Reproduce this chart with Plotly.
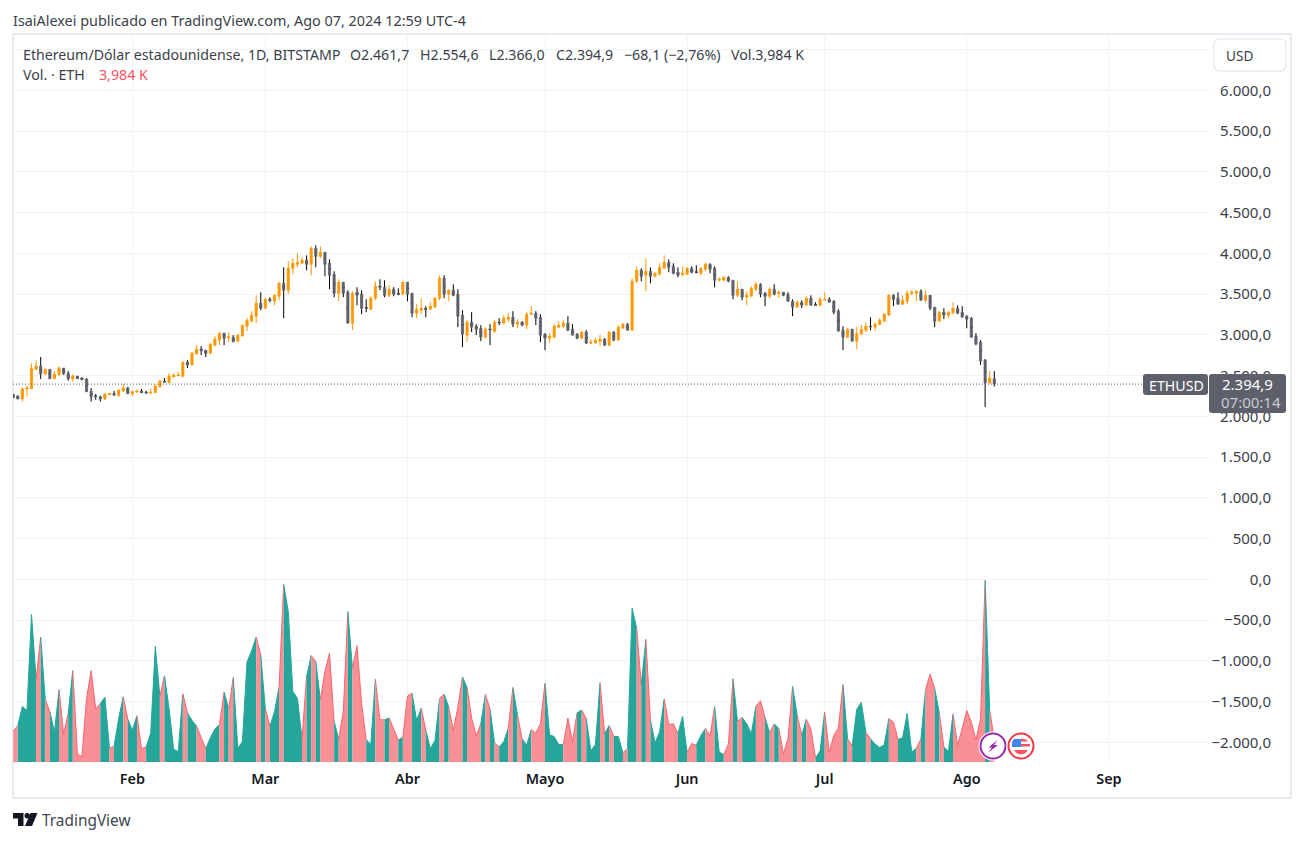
"""ETH/USD daily candles with a volume area, TradingView snapshot layout."""

import numpy as np
import pandas as pd
import plotly.graph_objects as go

# the page keeps its default 8px body margin, so the figure sits at (8, 8)
PAGE_W, PAGE_H = 1304, 842
EDGE = 8
W, H = PAGE_W - 2 * EDGE, PAGE_H - 2 * EDGE
FONT = "Noto Sans"
TEXT = "#3b3f4a"
UP = "#ff9800"
DOWN = "#5d606b"
GRID = "#f1f3f6"
BORDER = "#e9ebf2"

opens = [
    2270, 2249, 2212, 2339, 2339, 2576, 2616, 2518, 2576, 2461, 2510, 2592,
    2527, 2457, 2494, 2469, 2457, 2306, 2249, 2237, 2212, 2265, 2274, 2253,
    2310, 2347, 2274, 2298, 2310, 2298, 2286, 2290, 2363, 2429, 2412, 2482,
    2498, 2490, 2665, 2629, 2763, 2824, 2812, 2775, 2873, 2935, 3020, 2963,
    2971, 2922, 2984, 3106, 3167, 3228, 3387, 3326, 3436, 3412, 3473, 3632,
    3547, 3816, 3865, 3877, 3914, 3865, 4061, 3963, 4012, 3877, 3742, 3510,
    3645, 3522, 3143, 3522, 3498, 3338, 3314, 3449, 3596, 3583, 3485, 3559,
    3510, 3498, 3645, 3510, 3265, 3302, 3322, 3314, 3338, 3449, 3693, 3498,
    3547, 3498, 3241, 2996, 3155, 3106, 3081, 2971, 3069, 3045, 3155, 3143,
    3192, 3216, 3130, 3155, 3118, 3253, 3265, 3216, 3008, 2959, 2971, 3094,
    3106, 3143, 3069, 3008, 2959, 3033, 2898, 2898, 2922, 2947, 2873, 3033,
    2935, 3081, 3130, 3057, 3657, 3791, 3730, 3779, 3718, 3742, 3816, 3889,
    3840, 3767, 3742, 3742, 3816, 3771, 3755, 3804, 3865, 3816, 3673, 3669,
    3706, 3669, 3485, 3559, 3461, 3473, 3559, 3620, 3510, 3473, 3559, 3510,
    3522, 3498, 3412, 3338, 3400, 3363, 3449, 3375, 3363, 3428, 3436, 3412,
    3290, 3057, 2971, 3069, 2922, 3008, 3057, 3106, 3094, 3126, 3167, 3241,
    3485, 3449, 3375, 3412, 3510, 3510, 3534, 3424, 3485, 3338, 3167, 3277,
    3241, 3265, 3326, 3277, 3228, 3204, 2984, 2910, 2690, 2408, 2461.7,
]
highs = [
    2274, 2257, 2355, 2372, 2649, 2686, 2727, 2588, 2576, 2555, 2616, 2592,
    2555, 2510, 2494, 2482, 2469, 2347, 2274, 2253, 2282, 2290, 2310, 2323,
    2396, 2363, 2306, 2327, 2335, 2314, 2339, 2392, 2441, 2469, 2531, 2522,
    2547, 2665, 2690, 2788, 2873, 2861, 2812, 2898, 2984, 3033, 3020, 3033,
    2996, 3008, 3118, 3204, 3290, 3485, 3522, 3449, 3461, 3498, 3645, 3828,
    3902, 3938, 4000, 3950, 3975, 4085, 4097, 4085, 4012, 3926, 3779, 3681,
    3645, 3547, 3534, 3583, 3547, 3436, 3473, 3657, 3681, 3669, 3608, 3583,
    3571, 3657, 3645, 3510, 3375, 3449, 3351, 3400, 3461, 3730, 3730, 3559,
    3620, 3559, 3302, 3179, 3277, 3130, 3118, 3094, 3130, 3179, 3204, 3241,
    3265, 3290, 3192, 3167, 3277, 3351, 3290, 3253, 3020, 3020, 3130, 3167,
    3179, 3228, 3130, 3020, 3045, 3057, 2947, 2959, 2996, 2959, 3045, 3045,
    3118, 3143, 3143, 3693, 3840, 3816, 3938, 3828, 3767, 3877, 3975, 3926,
    3877, 3828, 3840, 3828, 3840, 3853, 3828, 3889, 3877, 3840, 3706, 3718,
    3718, 3669, 3657, 3559, 3534, 3596, 3645, 3632, 3522, 3583, 3620, 3547,
    3522, 3522, 3436, 3424, 3424, 3473, 3485, 3400, 3461, 3522, 3461, 3424,
    3314, 3106, 3081, 3069, 3094, 3118, 3155, 3216, 3155, 3204, 3265, 3498,
    3498, 3522, 3485, 3547, 3547, 3547, 3559, 3547, 3485, 3338, 3290, 3326,
    3290, 3400, 3363, 3351, 3241, 3216, 3020, 2935, 2702, 2555, 2554.6,
]
lows = [
    2229, 2212, 2180, 2241, 2339, 2567, 2457, 2506, 2461, 2461, 2502, 2510,
    2437, 2425, 2461, 2449, 2302, 2180, 2204, 2180, 2200, 2261, 2249, 2241,
    2298, 2278, 2249, 2290, 2290, 2274, 2278, 2290, 2355, 2421, 2408, 2482,
    2494, 2482, 2592, 2629, 2763, 2751, 2727, 2763, 2861, 2873, 2873, 2910,
    2910, 2910, 2984, 3045, 3159, 3143, 3302, 3326, 3400, 3363, 3424, 3204,
    3498, 3742, 3828, 3877, 3791, 3730, 3828, 3938, 3718, 3559, 3461, 3412,
    3461, 3143, 3057, 3363, 3253, 3277, 3302, 3424, 3547, 3461, 3461, 3473,
    3485, 3498, 3412, 3216, 3204, 3253, 3216, 3314, 3338, 3424, 3449, 3412,
    3473, 3094, 2849, 2910, 3033, 2996, 2922, 2959, 2873, 3020, 3118, 3130,
    3155, 3094, 3081, 3106, 3069, 3253, 3118, 2910, 2812, 2898, 2959, 3094,
    3081, 3045, 2996, 2947, 2947, 2886, 2886, 2898, 2861, 2861, 2861, 2922,
    2935, 3081, 3057, 3057, 3632, 3657, 3534, 3632, 3706, 3730, 3816, 3767,
    3742, 3706, 3718, 3742, 3755, 3755, 3730, 3779, 3755, 3583, 3657, 3669,
    3645, 3436, 3461, 3424, 3363, 3473, 3534, 3461, 3351, 3449, 3485, 3449,
    3473, 3412, 3228, 3338, 3326, 3363, 3363, 3363, 3351, 3424, 3400, 3253,
    3045, 2812, 2959, 2922, 2824, 3008, 3033, 3057, 3045, 3118, 3167, 3241,
    3351, 3375, 3375, 3375, 3485, 3412, 3424, 3400, 3302, 3094, 3167, 3192,
    3204, 3265, 3253, 3216, 3081, 2971, 2873, 2629, 2115, 2408, 2366.0,
]
closes = [
    2229, 2212, 2335, 2347, 2588, 2616, 2518, 2576, 2461, 2518, 2592, 2522,
    2461, 2498, 2461, 2449, 2302, 2241, 2241, 2212, 2274, 2278, 2265, 2323,
    2347, 2278, 2306, 2310, 2290, 2286, 2294, 2372, 2433, 2421, 2494, 2506,
    2506, 2665, 2629, 2775, 2824, 2804, 2771, 2886, 2947, 3020, 2959, 2975,
    2914, 2996, 3118, 3179, 3241, 3387, 3326, 3436, 3424, 3485, 3636, 3547,
    3816, 3877, 3889, 3914, 3865, 4061, 3963, 4012, 3865, 3730, 3510, 3645,
    3510, 3143, 3510, 3485, 3326, 3326, 3449, 3596, 3587, 3485, 3559, 3498,
    3498, 3645, 3498, 3265, 3314, 3326, 3314, 3351, 3449, 3693, 3498, 3547,
    3485, 3228, 3008, 3155, 3094, 3069, 2971, 3069, 3061, 3155, 3147, 3204,
    3216, 3130, 3155, 3118, 3253, 3265, 3204, 2996, 2959, 2984, 3106, 3118,
    3143, 3057, 2996, 2959, 3033, 2898, 2910, 2935, 2947, 2873, 3033, 2935,
    3094, 3130, 3057, 3657, 3791, 3718, 3779, 3718, 3755, 3828, 3889, 3828,
    3755, 3730, 3755, 3816, 3767, 3763, 3816, 3865, 3804, 3669, 3681, 3706,
    3657, 3485, 3559, 3461, 3485, 3571, 3620, 3498, 3473, 3559, 3498, 3522,
    3485, 3412, 3338, 3400, 3363, 3449, 3363, 3363, 3436, 3436, 3400, 3277,
    3045, 2971, 3069, 2922, 3020, 3069, 3106, 3098, 3130, 3179, 3253, 3485,
    3436, 3375, 3424, 3510, 3522, 3534, 3424, 3485, 3326, 3167, 3277, 3241,
    3277, 3326, 3265, 3216, 3192, 2971, 2886, 2678, 2408, 2469, 2394.9,
]
# daily volume, thousands of ETH
volume = [
    5.3, 6.3, 9.6, 8.9, 25.5, 14.3, 21.6, 10.8, 8.7, 5.2, 12.5, 4.8,
    8.4, 15.8, 1.4, 0.9, 11.0, 15.8, 9.2, 10.1, 11.2, 2.4, 2.7, 7.5,
    11.3, 7.4, 5.5, 8.0, 2.3, 2.6, 5.0, 20.0, 11.4, 14.9, 9.2, 2.2,
    1.8, 11.8, 8.5, 7.2, 6.2, 4.3, 2.3, 4.2, 5.7, 6.5, 12.1, 9.2,
    14.6, 2.4, 3.5, 17.3, 19.2, 21.6, 18.5, 9.2, 6.2, 8.7, 13.0, 30.7,
    26.0, 12.2, 11.0, 4.0, 14.8, 18.4, 17.4, 10.7, 15.7, 18.8, 7.0, 4.0,
    8.7, 26.0, 16.2, 20.1, 10.1, 3.9, 3.0, 14.3, 7.3, 7.3, 7.6, 5.6,
    3.8, 4.3, 11.4, 11.9, 7.2, 9.3, 5.5, 2.3, 3.7, 11.0, 11.7, 9.5,
    5.5, 9.5, 14.7, 12.9, 7.6, 4.5, 6.6, 11.7, 9.2, 3.3, 2.6, 3.5,
    5.9, 12.9, 8.1, 4.0, 2.9, 5.6, 5.0, 6.6, 13.6, 4.7, 4.4, 3.0,
    3.0, 7.6, 3.5, 8.5, 9.0, 7.5, 2.0, 3.0, 13.7, 4.9, 6.3, 4.4,
    4.4, 1.6, 2.3, 26.6, 23.1, 13.4, 21.2, 7.2, 3.3, 5.2, 10.9, 6.5,
    6.6, 4.9, 7.9, 1.6, 3.2, 2.9, 4.6, 5.8, 4.5, 9.6, 1.7, 1.3,
    3.1, 14.4, 7.0, 7.7, 6.6, 4.9, 9.6, 10.6, 7.7, 5.0, 6.6, 5.8,
    1.4, 4.0, 13.1, 8.1, 4.6, 7.4, 5.7, 0.7, 1.9, 8.6, 1.7, 4.6,
    5.9, 13.4, 4.0, 2.8, 9.1, 10.3, 5.1, 4.0, 3.1, 2.5, 3.0, 7.5,
    6.9, 3.9, 4.2, 8.4, 1.7, 2.4, 4.0, 12.5, 15.2, 12.7, 8.5, 2.6,
    1.8, 8.3, 2.9, 5.8, 8.9, 6.9, 3.8, 7.5, 31.4, 8.9, 3.984,
]

price_ticks = [6500, 6000, 5500, 5000, 4500, 4000, 3500, 3000, 2500, 2000, 1500, 1000,
               500, 0, -500, -1000, -1500, -2000]
price_labels = ["", "6.000,0", "5.500,0", "5.000,0", "4.500,0", "4.000,0", "3.500,0", "3.000,0",
                "2.500,0", "2.000,0", "1.500,0", "1.000,0", "500,0", "0,0", "−500,0",
                "−1.000,0", "−1.500,0", "−2.000,0"]
month_ticks = ["2024-02-01", "2024-03-01", "2024-04-01", "2024-05-01", "2024-06-01",
               "2024-07-01", "2024-08-01", "2024-09-01"]
month_labels = ["Feb", "Mar", "Abr", "Mayo", "Jun", "Jul", "Ago", "Sep"]

last_close = closes[-1]
dates = pd.date_range(end="2024-08-07", periods=len(closes))


def px(x):
    return (x - EDGE) / W


def py(y):
    return 1 - (y - EDGE) / H


def round_rect(x0, y0, x1, y1, r):
    return (
        f"M{px(x0 + r):.5f},{py(y0):.5f} L{px(x1 - r):.5f},{py(y0):.5f} "
        f"Q{px(x1):.5f},{py(y0):.5f} {px(x1):.5f},{py(y0 + r):.5f} "
        f"L{px(x1):.5f},{py(y1 - r):.5f} "
        f"Q{px(x1):.5f},{py(y1):.5f} {px(x1 - r):.5f},{py(y1):.5f} "
        f"L{px(x0 + r):.5f},{py(y1):.5f} "
        f"Q{px(x0):.5f},{py(y1):.5f} {px(x0):.5f},{py(y1 - r):.5f} "
        f"L{px(x0):.5f},{py(y0 + r):.5f} "
        f"Q{px(x0):.5f},{py(y0):.5f} {px(x0 + r):.5f},{py(y0):.5f} Z"
    )


def poly(*pts):
    head = f"M{px(pts[0][0]):.5f},{py(pts[0][1]):.5f} "
    return head + " ".join(f"L{px(x):.5f},{py(y):.5f}" for x, y in pts[1:]) + " Z"


def shape_path(path, fill, line=None, width=0):
    return dict(type="path", xref="paper", yref="paper", path=path, fillcolor=fill,
                line=dict(color=line or fill, width=width), layer="above")


def circle(cx, cy, r, fill, line=None, width=0):
    return dict(type="circle", xref="paper", yref="paper", x0=px(cx - r), x1=px(cx + r),
                y0=py(cy + r), y1=py(cy - r), fillcolor=fill,
                line=dict(color=line or fill, width=width), layer="above")


def label(text, x, y, size=14.2, color=TEXT, anchor="left", weight=None):
    return dict(text=text, x=px(x), y=py(y), xref="paper", yref="paper", showarrow=False,
                xanchor=anchor, yanchor="middle", borderpad=0, borderwidth=0,
                font=dict(family=FONT, size=size, color=color, weight=weight))


def volume_runs():
    """Contiguous stretches that share a colour; each one gets its own filled trace."""
    runs = []
    for i in range(1, len(volume)):
        rising = closes[i] >= opens[i]
        if runs and runs[-1][0] == rising:
            runs[-1][1].append(i)
        else:
            runs.append((rising, [i - 1, i]))
    return runs


def wick_trace(mask, color):
    # open and close collapse to the body middle so only the wick shows past the body
    mid = (np.array(opens) + np.array(closes))[mask] / 2
    style = dict(line=dict(color=color, width=1), fillcolor=color)
    return go.Candlestick(
        x=dates[mask], open=mid, close=mid,
        high=np.array(highs)[mask], low=np.array(lows)[mask],
        increasing=style, decreasing=style,
        showlegend=False, hoverinfo="skip",
    )


fig = go.Figure()

rising_days = np.array(closes) >= np.array(opens)
fig.add_trace(wick_trace(rising_days, UP))
fig.add_trace(wick_trace(~rising_days, "#000000"))
fig.add_trace(go.Candlestick(
    x=dates, open=opens, close=closes,
    high=np.maximum(opens, closes), low=np.minimum(opens, closes),
    increasing=dict(line=dict(color=UP, width=0.7), fillcolor=UP),
    decreasing=dict(line=dict(color=DOWN, width=0.7), fillcolor=DOWN),
    showlegend=False, hoverinfo="skip",
))

for rising, idx in volume_runs():
    fig.add_trace(go.Scatter(
        x=[dates[i] for i in idx], y=[volume[i] for i in idx], yaxis="y2",
        mode="lines", fill="tozeroy",
        fillcolor="#26a69a" if rising else "#fa8f96",
        line=dict(color="#26a69a" if rising else "#f7656f", width=1),
        showlegend=False, hoverinfo="skip",
    ))

shapes = [
    # chart frame
    dict(type="rect", xref="paper", yref="paper", x0=px(13), x1=px(1291), y0=py(798), y1=py(34),
         line=dict(color=BORDER, width=2), layer="below"),
    # last price line
    dict(type="line", xref="x domain", yref="y", x0=0, x1=(1143 - 13) / (1209 - 13),
         y0=last_close, y1=last_close, line=dict(color=DOWN, width=1, dash="1px,2px"), layer="above"),
    # USD button
    shape_path(round_rect(1214, 39, 1286, 71, 6), "#ffffff", BORDER, 1.5),
    # last price badges
    shape_path(round_rect(1143, 374, 1208, 395, 3), DOWN),
    shape_path(round_rect(1209, 374, 1286, 413, 3), DOWN),
    # TradingView mark
    shape_path(poly((13, 813), (23.5, 813), (23.5, 826), (18, 826), (18, 818.5), (13, 818.5)), "#131722"),
    circle(27.2, 815.8, 2.7, "#131722"),
    shape_path(poly((30.5, 813), (37.5, 813), (32, 826), (25, 826)), "#131722"),
    # event markers
    circle(993, 746, 14.5, "#ffffff"),
    circle(993, 746, 12.5, "#ffffff", "#9c27b0", 2),
    shape_path(poly((997.5, 740), (988.5, 747.5), (992, 747.5), (988, 752.8),
                    (998, 745), (994, 745)), "#9c27b0"),
    circle(1021, 746, 14.5, "#ffffff"),
    circle(1021, 746, 12.5, "#ffffff", "#f23645", 2),
    shape_path(poly((1014, 739), (1021, 739), (1021, 747), (1012, 747), (1012, 742)), "#3d85f0"),
    shape_path(poly((1021, 738.5), (1026, 739.5), (1028, 741.5), (1021, 741.5)), "#f7525f"),
    shape_path(poly((1021, 744), (1030, 744), (1030, 746.5), (1021, 746.5)), "#f7525f"),
    shape_path(poly((1014, 750), (1028, 750), (1025, 753.5), (1021, 754.5), (1017, 753.5)), "#f7525f"),
]

annotations = [
    label("IsaiAlexei publicado en TradingView.com, Ago 07, 2024 12:59 UTC-4", 13, 20, size=14.4),
    label("Ethereum/Dólar estadounidense, 1D, BITSTAMP", 23, 54),
    label("O2.461,7", 350, 54),
    label("H2.554,6", 420, 54),
    label("L2.366,0", 489, 54),
    label("C2.394,9", 556, 54),
    label("−68,1 (−2,76%)", 624, 54),
    label("Vol.3,984 K", 731, 54),
    label("Vol. · ETH", 23, 75),
    label("3,984 K", 99, 75, color="#f7525f"),
    label("USD", 1226, 55, size=13.6),
    label("ETHUSD", 1176, 385, color="#ffffff", anchor="center"),
    label("2.394,9", 1247, 384, size=15, color="#ffffff", anchor="center"),
    label("07:00:14", 1251, 402, size=15, color="#c9cad0", anchor="center"),
    label("TradingView", 42, 820, size=15.4, color="#434651"),
]

fig.update_layout(
    width=W, height=H,
    margin=dict(l=0, r=0, t=0, b=0),
    paper_bgcolor="#ffffff", plot_bgcolor="#ffffff",
    showlegend=False,
    boxmode="overlay",
    font=dict(family=FONT, size=14, color=TEXT),
    xaxis=dict(
        domain=[px(13), px(1209)],
        range=["2024-01-05 23:00", "2024-09-22 20:00"],
        rangeslider=dict(visible=False),
        tickmode="array", tickvals=month_ticks, ticktext=month_labels,
        tickfont=dict(family=FONT, size=14.4, color="#131722", weight=600),
        ticklabelstandoff=7,
        ticks="", showline=False, zeroline=False,
        showgrid=True, gridcolor=GRID, gridwidth=1,
        anchor="y",
    ),
    yaxis=dict(
        domain=[py(762), py(35)],
        range=[-2241.7, 6678.5],
        anchor="free", position=px(1271), side="left",
        tickmode="array", tickvals=price_ticks, ticktext=price_labels,
        tickfont=dict(family=FONT, size=15, color=TEXT),
        ticks="", showline=False, zeroline=False,
        showgrid=True, gridcolor=GRID, gridwidth=1,
    ),
    yaxis2=dict(
        domain=[py(762), py(35)],
        overlaying="y", range=[0, 125.7],
        visible=False, showgrid=False, zeroline=False,
    ),
    shapes=shapes,
    annotations=annotations,
)

fig.write_html("out.html")
